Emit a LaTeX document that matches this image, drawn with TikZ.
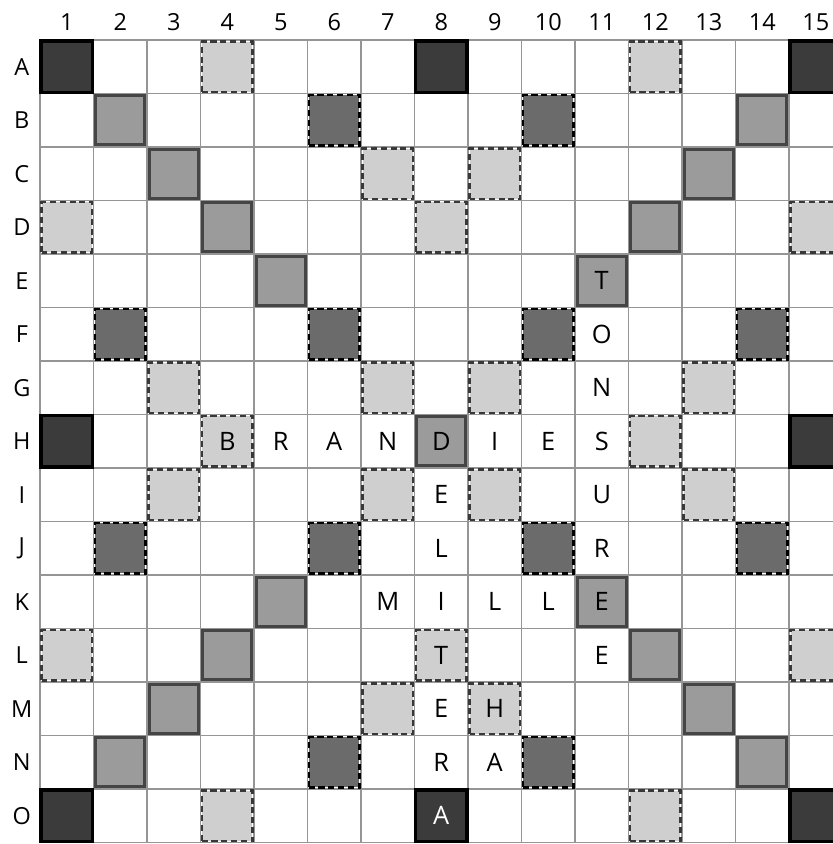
\documentclass[tikz,border=0pt]{standalone}
\usepackage{fontspec}
\setmainfont{Open Sans}
\usetikzlibrary{calc}

\definecolor{twfill}{HTML}{3B3B3B}
\definecolor{dwfill}{HTML}{9B9B9B}
\definecolor{dwline}{HTML}{454545}
\definecolor{tlfill}{HTML}{6B6B6B}
\definecolor{dlfill}{HTML}{CFCFCF}
\definecolor{dlline}{HTML}{383838}
\definecolor{gridline}{HTML}{959595}

\tikzset{
  tword/.style={fill=twfill, draw=black, line width=1.7pt},
  dword/.style={fill=dwfill, draw=dwline, line width=1.5pt},
  tletter/.style={fill=tlfill, draw=black, line width=1.3pt, dash pattern=on 3.2pt off 2pt},
  dletter/.style={fill=dlfill, draw=dlline, line width=1.3pt, dash pattern=on 3.2pt off 2pt},
  axis/.style={font=\fontsize{12.5}{13}\selectfont},
  tile/.style={font=\fontsize{13.5}{14}\selectfont}
}

\begin{document}
\begin{tikzpicture}[x=1cm,y=1cm]
  \useasboundingbox (-0.748,0.748) rectangle (14.822,-15.028);
  \newcommand{\bonus}[3]{
    \foreach \r/\c in {#2} {
      \draw[#1] ($(\c-1,-\r)+(#3,#3)$) rectangle ($(\c,-\r+1)-(#3,#3)$);
    }
  }
  % board
  \draw[gridline, line width=0.7pt] (0,-15) grid (15,0);
  \bonus{dletter}{1/4,1/12,3/7,3/9,4/1,4/8,4/15,7/3,7/7,7/9,7/13,8/4,8/12,9/3,9/7,9/9,9/13,12/1,12/8,12/15,13/7,13/9,15/4,15/12}{0.03}
  \bonus{tletter}{2/6,2/10,6/2,6/6,6/10,6/14,10/2,10/6,10/10,10/14,14/6,14/10}{0.03}
  \bonus{dword}{2/2,3/3,4/4,5/5,11/5,12/4,13/3,14/2,2/14,3/13,4/12,5/11,11/11,12/12,13/13,14/14,8/8}{0.04}
  \bonus{tword}{1/1,1/8,1/15,8/1,8/15,15/1,15/8,15/15}{0.02}
  % labels
  \foreach \c in {1,...,15}
    \node[axis] (col\c) at (\c-0.5,0.33) {\c};
  \foreach \n [count=\r] in {A,B,C,D,E,F,G,H,I,J,K,L,M,N,O}
    \node[axis] (row\n) at (-0.34,-\r+0.5) {\n};
  % tiles
  \foreach \r/\c/\t in {8/4/B,8/5/R,8/6/A,8/7/N,8/8/D,8/9/I,8/10/E,8/11/S,
      5/11/T,6/11/O,7/11/N,9/11/U,10/11/R,11/11/E,12/11/E,
      9/8/E,10/8/L,11/8/I,12/8/T,13/8/E,14/8/R,
      11/7/M,11/9/L,11/10/L,13/9/H,14/9/A}
    \node[tile] (t\r-\c) at (\c-0.5,-\r+0.5) {\t};
  \node[tile, text=white] (t15-8) at (7.5,-14.5) {A};
\end{tikzpicture}
\end{document}
